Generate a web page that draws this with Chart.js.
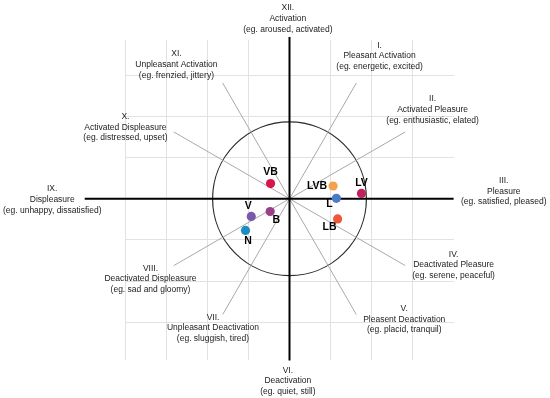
<!DOCTYPE html>
<html>
<head>
<meta charset="utf-8">
<script src="https://cdn.jsdelivr.net/npm/chart.js@4"></script>
<style>
  html, body { margin: 0; padding: 0; background: #fff; }
  #wrap { width: 550px; height: 398px; }
</style>
</head>
<body>
<div id="wrap"><canvas id="affectChart"></canvas></div>
<script>
// measured moods (valence = x, arousal = y)
const moodLabels = ['VB', 'LVB', 'LV', 'L', 'LB', 'V', 'B', 'N'];
const valence = [-0.46, 1.06, 1.75, 1.14, 1.17, -0.93, -0.47, -1.07];
const arousal = [0.37, 0.31, 0.13, 0.01, -0.49, -0.43, -0.31, -0.77];
const moodColors = ['#d7164a', '#f5a04a', '#be2060', '#4a7bc8', '#ef563a', '#7c58a8', '#9a4089', '#1b8dc0'];

// the twelve sectors of the affect circle
const sectorNames = [
  ['XII.', 'Activation', '(eg. aroused, activated)'],
  ['I.', 'Pleasant Activation', '(eg. energetic, excited)'],
  ['II.', 'Activated Pleasure', '(eg. enthusiastic, elated)'],
  ['III.', 'Pleasure', '(eg. satisfied, pleased)'],
  ['IV.', 'Deactivated Pleasure', '(eg. serene, peaceful)'],
  ['V.', 'Pleasent Deactivation', '(eg. placid, tranquil)'],
  ['VI.', 'Deactivation', '(eg. quiet, still)'],
  ['VII.', 'Unpleasant Deactivation', '(eg. sluggish, tired)'],
  ['VIII.', 'Deactivated Displeasure', '(eg. sad and gloomy)'],
  ['IX.', 'Displeasure', '(eg. unhappy, dissatisfied)'],
  ['X.', 'Activated Displeasure', '(eg. distressed, upset)'],
  ['XI.', 'Unpleasant Activation', '(eg. frenzied, jittery)']
];
const spokeAngles = [60, 30, -30, -60, -120, -150, 150, 120];
const spokeLength = 3.25;
const circleRadius = 1.87;
const axisX = [-4.98, 3.99];
const axisY = [-3.93, 3.93];
const gridX = [-4, -3, -2, -1, 0, 1, 2, 3];
const gridY = [-3, -2, -1, 0, 1, 2, 3];

// where the sector captions sit (centre of middle line, in axis units)
const sectorLabelX = [-0.04, 2.19, 3.48, 5.21, 3.99, 2.79, -0.04, -1.86, -3.38, -5.77, -3.99, -2.75];
const sectorLabelY = [4.38, 3.47, 2.17, 0.18, -1.61, -2.93, -4.43, -3.14, -1.95, -0.02, 1.74, 3.26];
// pixel offsets of the mood captions from their dots
const labelOffsets = [[0, -11.5], [-16, 0], [0, -10], [-7, 5.5], [-8, 8.5], [-3, -10], [6, 9], [2.5, 11]];

const points = valence.map((v, i) => ({x: v, y: arousal[i]}));

const datasets = [
  {
    type: 'scatter',
    data: points,
    backgroundColor: moodColors,
    borderWidth: 0,
    pointRadius: 4.6,
    order: 0
  },
  {
    type: 'line',
    data: [{x: axisX[0], y: 0}, {x: axisX[1], y: 0}],
    borderColor: '#000',
    borderWidth: 2,
    pointRadius: 0,
    clip: false,
    order: 1
  },
  {
    type: 'line',
    data: [{x: 0, y: axisY[0]}, {x: 0, y: axisY[1]}],
    borderColor: '#000',
    borderWidth: 2,
    pointRadius: 0,
    clip: false,
    order: 1
  }
];
spokeAngles.forEach(a => {
  const rad = a * Math.PI / 180;
  datasets.push({
    type: 'line',
    data: [{x: 0, y: 0}, {x: spokeLength * Math.cos(rad), y: spokeLength * Math.sin(rad)}],
    borderColor: '#a9a9a9',
    borderWidth: 1,
    pointRadius: 0,
    clip: false,
    order: 2
  });
});

const circlePlugin = {
  id: 'affectCircle',
  beforeDatasetsDraw(chart) {
    const {ctx, scales: {x, y}} = chart;
    const cx = x.getPixelForValue(0);
    const cy = y.getPixelForValue(0);
    const r = x.getPixelForValue(circleRadius) - cx;
    ctx.save();
    ctx.beginPath();
    ctx.arc(cx, cy, r, 0, Math.PI * 2);
    ctx.strokeStyle = '#2b2b2b';
    ctx.lineWidth = 1.2;
    ctx.stroke();
    ctx.restore();
  }
};

const labelPlugin = {
  id: 'affectLabels',
  afterDatasetsDraw(chart) {
    const {ctx, scales: {x, y}} = chart;
    ctx.save();
    ctx.textAlign = 'center';
    ctx.textBaseline = 'middle';
    ctx.fillStyle = '#222';
    ctx.font = '8.5px "Liberation Sans", Arial, sans-serif';
    sectorNames.forEach((lines, i) => {
      const px = x.getPixelForValue(sectorLabelX[i]);
      const py = y.getPixelForValue(sectorLabelY[i]);
      lines.forEach((t, j) => ctx.fillText(t, px, py + (j - 1) * 10.7));
    });
    ctx.fillStyle = '#000';
    ctx.font = 'bold 10.5px "Liberation Sans", Arial, sans-serif';
    const meta = chart.getDatasetMeta(0);
    meta.data.forEach((pt, i) => {
      ctx.fillText(moodLabels[i], pt.x + labelOffsets[i][0], pt.y + labelOffsets[i][1]);
    });
    ctx.restore();
  }
};

const config = {
  type: 'scatter',
  data: {datasets: datasets},
  options: {
    responsive: true,
    maintainAspectRatio: false,
    animation: false,
    layout: {
      padding: {left: 125, right: 96, top: 40, bottom: 38}
    },
    plugins: {
      legend: {display: false},
      tooltip: {enabled: false}
    },
    scales: {
      x: {
        type: 'linear',
        min: -4,
        max: 4,
        afterBuildTicks: (scale) => { scale.ticks = gridX.map(v => ({value: v})); },
        grid: {color: '#e2e2e2', drawTicks: false},
        border: {display: false},
        ticks: {display: false}
      },
      y: {
        type: 'linear',
        min: -3.92,
        max: 3.86,
        afterBuildTicks: (scale) => { scale.ticks = gridY.map(v => ({value: v})); },
        grid: {color: '#e2e2e2', drawTicks: false},
        border: {display: false},
        ticks: {display: false}
      }
    }
  },
  plugins: [circlePlugin, labelPlugin]
};

const affectChart = new Chart(document.getElementById('affectChart'), config);
</script>
</body>
</html>
